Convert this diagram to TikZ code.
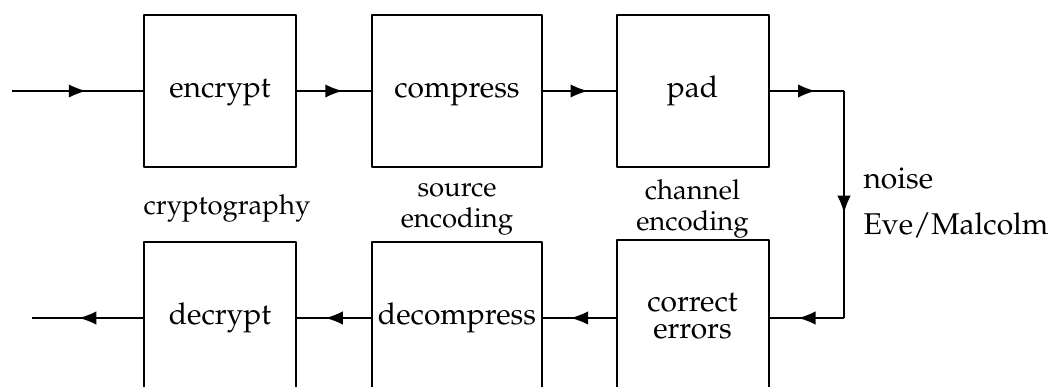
\documentclass[tikz,border=0pt]{standalone}
\usepackage[T1]{fontenc}
\usepackage{mathpazo}
\usepackage{tikz}
\usetikzlibrary{arrows.meta,decorations.markings,positioning}

\begin{document}
\begin{tikzpicture}[x=0.4pt,y=0.4pt,
  box/.style={draw,line width=0.8pt,line join=round,minimum width=60.8pt,minimum height=60.8pt,inner sep=1pt,font=\fontsize{12}{11}\selectfont,align=center},
  oneline/.style={box,text height=8.6pt,text depth=3pt},
  widebox/.style={oneline,minimum width=68pt},
  lbl/.style={font=\fontsize{11}{12.6}\selectfont,align=center},
  side/.style={font=\fontsize{12}{14}\selectfont,anchor=base west,inner sep=0pt},
  flow/.style={line width=0.8pt,decoration={markings,mark=at position 0.5 with {\arrow[xshift=3.5pt]{Latex[length=7pt,width=5.4pt]}}},postaction={decorate}}]
\useasboundingbox (0,0) rectangle (1057,386);
\clip (0,0) rectangle (1057,386);
% sending side
\node[oneline] (enc) at (220,295) {encrypt};
\node[widebox] (comp) at (457,295) {compress};
\node[oneline] (pad) at (692.5,295) {pad};
% receiving side
\node[oneline] (dec) at (220,68) {decrypt};
\node[widebox] (decomp) at (457,68) {decompress};
\node[box] (corr) at (692.5,70) {correct\\errors};
% layers
\node[lbl] (crypto) at (227,178) {cryptography};
\node[lbl] (src) at (457,177) {source\\encoding};
\node[lbl] (chan) at (692.5,177) {channel\\encoding};
% channel
\coordinate (in) at (12,295);
\coordinate (out) at (32,68);
\coordinate (ne) at (844,295);
\coordinate (se) at (844,68);
\node[side] (noise) at (863,197) {noise};
\node[side] (eve) at (863,151) {Eve/Malcolm};
\draw[flow] (in) -- (enc);
\draw[flow] (enc) -- (comp);
\draw[flow] (comp) -- (pad);
\draw[flow] (pad) -- (ne);
\draw[flow] (ne) -- (se);
\draw[flow] (se) -- (corr.east |- se);
\draw[flow] (corr.west |- se) -- (decomp);
\draw[flow] (decomp) -- (dec);
\draw[flow] (dec) -- (out);
\end{tikzpicture}
\end{document}
